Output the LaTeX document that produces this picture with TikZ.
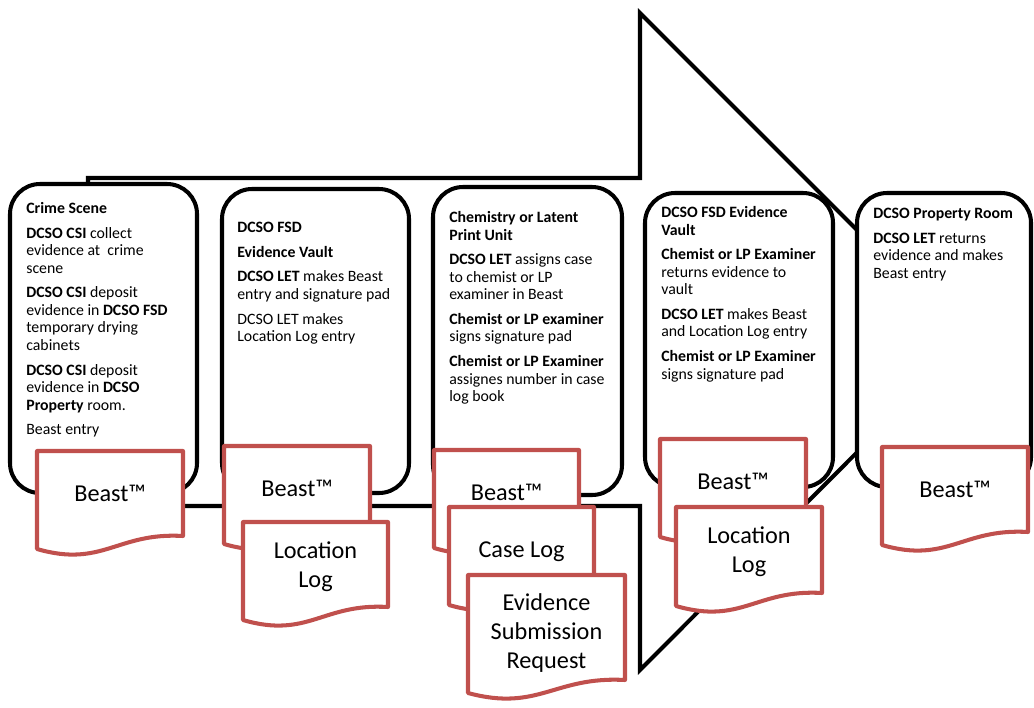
\documentclass[tikz,border=0pt]{standalone}
\usepackage{fontspec}
\setmainfont{Carlito}
\definecolor{docred}{RGB}{192,80,77}
\tikzset{
    stage/.style={draw=black, line width=2.3pt, fill=white, rounded corners=0.6cm},
    doc/.style={draw=docred, line width=2.3pt, fill=white, line join=round},
    stagetext/.style={anchor=north west, align=left, inner sep=0pt, font=\fontsize{9}{10}\selectfont},
    doctext/.style={align=center, inner sep=0pt, font=\fontsize{13.8}{16.5}\selectfont}
}
\begin{document}
\begin{tikzpicture}[x=0.02cm, y=-0.02cm]
    \useasboundingbox (0,0) rectangle (1034,707);

    % big arrow behind the stages
    \draw [line width=2.3pt] (88,178) -- (640,178) -- (640,13) -- (968,341) -- (640,670) -- (640,506) -- (88,506) -- cycle;

    \draw [stage] (10,184) rectangle (197,493);
    \draw [stage] (222,189) rectangle (409,493);
    \draw [stage] (433,187) rectangle (622,495);
    \draw [stage] (645,193) rectangle (833,487);
    \draw [stage] (857,193) rectangle (1031,487);

    \node [stagetext] (crime) at (26,202) {\textbf{Crime Scene}\\[4pt]
        \textbf{DCSO CSI} collect\\ evidence at\ \ crime\\ scene\\[4pt]
        \textbf{DCSO CSI} deposit\\ evidence in \textbf{DCSO FSD}\\ temporary drying\\ cabinets\\[4pt]
        \textbf{DCSO CSI} deposit\\ evidence in \textbf{DCSO}\\ \textbf{Property} room.\\[4pt]
        Beast entry};
    \node [stagetext] (vault) at (237,222) {\textbf{DCSO FSD}\\[4pt]
        \textbf{Evidence Vault}\\[4pt]
        \textbf{DCSO LET} makes Beast\\ entry and signature pad\\[4pt]
        DCSO LET makes\\ Location Log entry};
    \node [stagetext] (unit) at (449,211) {\textbf{Chemistry or Latent}\\ \textbf{Print Unit}\\[4pt]
        \textbf{DCSO LET} assigns case\\ to chemist or LP\\ examiner in Beast\\[4pt]
        \textbf{Chemist or LP examiner}\\ signs signature pad\\[4pt]
        \textbf{Chemist or LP Examiner}\\ assignes number in case\\ log book};
    \node [stagetext] (return) at (661,206) {\textbf{DCSO FSD Evidence}\\ \textbf{Vault}\\[4pt]
        \textbf{Chemist or LP Examiner}\\ returns evidence to\\ vault\\[4pt]
        \textbf{DCSO LET} makes Beast\\ and Location Log entry\\[4pt]
        \textbf{Chemist or LP Examiner}\\ signs signature pad};
    \node [stagetext] (property) at (873,208) {\textbf{DCSO Property Room}\\[4pt]
        \textbf{DCSO LET} returns\\ evidence and makes\\ Beast entry};

    % documents, back to front
    \foreach \n/\x/\y/\w/\h/\d/\t in {
        beastcrime/37/451/146/85/0/{Beast\texttrademark},
        beastvault/224/446/146/85/0/{Beast\texttrademark},
        locvault/243/522/145/85/2/{Location\\Log},
        beastunit/434/450/145/85/0/{Beast\texttrademark},
        caselog/449/507/145/85/2/{Case Log},
        request/468/575/157/105/6/{Evidence\\Submission\\Request},
        beastreturn/660/439/146/85/0/{Beast\texttrademark},
        locreturn/676/507/146/86/2/{Location\\Log},
        beastproperty/882/447/146/85/0/{Beast\texttrademark}}{
        \draw [doc] (\x,\y) -- (\x+\w,\y) -- (\x+\w,\y+\h)
            .. controls (\x+0.55*\w,\y+\h-4) and (\x+0.45*\w,\y+\h+32) .. (\x,\y+\h+13) -- cycle;
        \node [doctext] (\n) at (\x+0.5*\w,\y+0.5*\h+\d) {\t};
    }

\end{tikzpicture}
\end{document}
